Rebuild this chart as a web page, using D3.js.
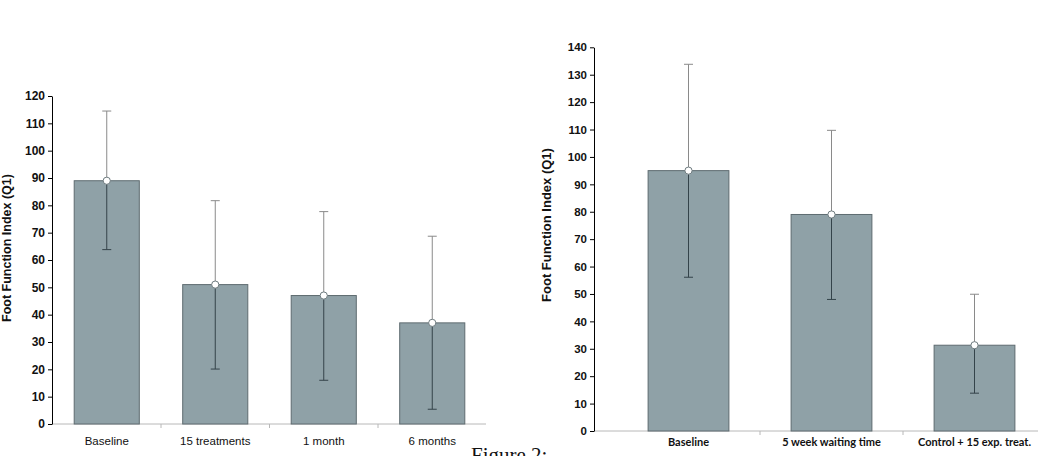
<!DOCTYPE html>
<html>
<head>
<meta charset="utf-8">
<script src="https://cdn.jsdelivr.net/npm/d3@7"></script>
<style>
  body { margin: 0; background: #fff; }
  svg { display: block; }
</style>
</head>
<body>
<div id="chart"></div>
<script>
// left panel
const leftCats = ['Baseline', '15 treatments', '1 month', '6 months'];
const leftMeans = [89, 51, 47, 37];
const leftUpper = [114.5, 81.7, 77.7, 68.7];
const leftLower = [63.8, 20.1, 16, 5.4];
const leftTicks = [0, 10, 20, 30, 40, 50, 60, 70, 80, 90, 100, 110, 120];

// right panel
const rightCats = ['Baseline', '5 week waiting time', 'Control + 15 exp. treat.'];
const rightMeans = [95, 79, 31.3];
const rightUpper = [133.8, 109.7, 49.9];
const rightLower = [56.1, 48, 13.8];
const rightTicks = [0, 10, 20, 30, 40, 50, 60, 70, 80, 90, 100, 110, 120, 130, 140];

const width = 1038;
const height = 456;

const svg = d3.select('#chart')
  .append('svg')
  .attr('width', width)
  .attr('height', height);

function panel(opt) {
  const g = svg.append('g');
  const rows = opt.cats.map((c, i) => ({
    cat: c, mean: opt.means[i], hi: opt.upper[i], lo: opt.lower[i]
  }));

  const y = d3.scaleLinear()
    .domain([0, d3.max(opt.ticks)])
    .range([opt.y0, opt.y1]);
  const x = d3.scaleBand()
    .domain(opt.cats)
    .range([opt.xStart, opt.xEnd])
    .padding(0);
  const barW = x.bandwidth() * opt.barFrac;

  // x axis line + separators
  g.append('line')
    .attr('x1', opt.axisX).attr('x2', opt.axisEnd)
    .attr('y1', y(0)).attr('y2', y(0))
    .attr('stroke', '#b8b8b8').attr('stroke-width', 1);
  g.selectAll('.sep')
    .data(opt.cats.slice(1))
    .enter()
    .append('line')
    .attr('x1', d => x(d)).attr('x2', d => x(d))
    .attr('y1', y(0)).attr('y2', y(0) + 4)
    .attr('stroke', '#b8b8b8');

  // bars
  g.selectAll('.bar')
    .data(rows)
    .enter()
    .append('rect')
    .attr('x', d => x(d.cat) + (x.bandwidth() - barW) / 2)
    .attr('y', d => y(d.mean))
    .attr('width', barW)
    .attr('height', d => y(0) - y(d.mean))
    .attr('fill', '#8fa1a7')
    .attr('stroke', '#5e6b70')
    .attr('stroke-width', 1);

  const cx = d => x(d.cat) + x.bandwidth() / 2;

  // upper error (light grey)
  g.selectAll('.eu')
    .data(rows)
    .enter()
    .append('path')
    .attr('d', d => `M${cx(d)},${y(d.mean)}V${y(d.hi)}M${cx(d) - 4.5},${y(d.hi)}H${cx(d) + 4.5}`)
    .attr('stroke', '#8a8a8a')
    .attr('fill', 'none');
  // lower error (dark)
  g.selectAll('.el')
    .data(rows)
    .enter()
    .append('path')
    .attr('d', d => `M${cx(d)},${y(d.mean)}V${y(d.lo)}M${cx(d) - 4.5},${y(d.lo)}H${cx(d) + 4.5}`)
    .attr('stroke', '#34434a')
    .attr('fill', 'none');
  g.selectAll('.dot')
    .data(rows)
    .enter()
    .append('circle')
    .attr('cx', cx)
    .attr('cy', d => y(d.mean))
    .attr('r', 3.6)
    .attr('fill', '#fff')
    .attr('stroke', '#6f7c80')
    .attr('stroke-width', 1);

  // y axis
  const ya = g.append('g')
    .attr('transform', `translate(${opt.axisX},0)`)
    .call(d3.axisLeft(y).tickValues(opt.ticks).tickSize(4).tickPadding(3).tickSizeOuter(0));
  ya.select('.domain').attr('stroke', '#000');
  ya.selectAll('.tick line').attr('stroke', '#000');
  ya.selectAll('text')
    .attr('font-family', 'Liberation Sans, Arial, sans-serif')
    .attr('font-weight', 'bold')
    .attr('font-size', opt.tickFont)
    .attr('fill', '#111');

  // x labels
  g.selectAll('.xl')
    .data(opt.cats)
    .enter()
    .append('text')
    .attr('x', d => x(d) + x.bandwidth() / 2)
    .attr('y', opt.labelY)
    .attr('text-anchor', 'middle')
    .attr('font-family', opt.labelFamily)
    .attr('font-weight', opt.labelWeight)
    .attr('font-size', opt.labelFont)
    .attr('fill', '#111')
    .text(d => d);

  // y title
  g.append('text')
    .attr('transform', `translate(${opt.titleX},${opt.titleY}) rotate(-90)`)
    .attr('text-anchor', 'middle')
    .attr('font-family', 'Liberation Sans, Arial, sans-serif')
    .attr('font-weight', 'bold')
    .attr('font-size', opt.titleFont)
    .attr('fill', '#111')
    .text('Foot Function Index (Q1)');
}

panel({
  cats: leftCats, means: leftMeans, upper: leftUpper, lower: leftLower, ticks: leftTicks,
  y0: 424, y1: 96, axisX: 52, axisEnd: 486, xStart: 52.5, xEnd: 486.5, barFrac: 0.6,
  tickFont: 12, labelY: 445, labelFont: 11.5, labelWeight: 'normal',
  labelFamily: 'Liberation Sans, Arial, sans-serif', titleX: 11, titleY: 248, titleFont: 12.5
});

panel({
  cats: rightCats, means: rightMeans, upper: rightUpper, lower: rightLower, ticks: rightTicks,
  y0: 431, y1: 47.3, axisX: 594, axisEnd: 1038, xStart: 617, xEnd: 1046, barFrac: 0.565,
  tickFont: 11.5, labelY: 446, labelFont: 11, labelWeight: 'bold',
  labelFamily: 'Lato, Open Sans, sans-serif', titleX: 551, titleY: 225, titleFont: 13
});

svg.append('text')
  .attr('x', 471)
  .attr('y', 462)
  .attr('font-family', 'Liberation Serif, Times New Roman, serif')
  .attr('font-size', 21)
  .attr('fill', '#111')
  .text('Figure 2:');
</script>
</body>
</html>
